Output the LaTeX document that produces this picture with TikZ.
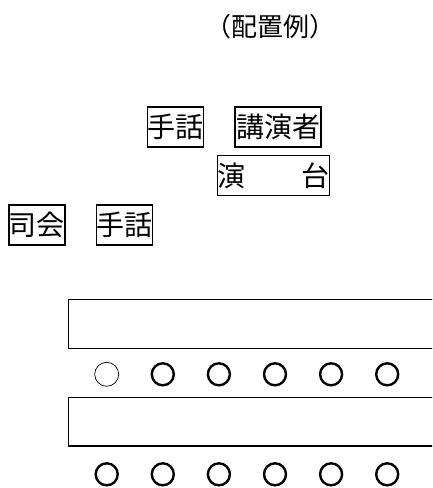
\documentclass[tikz,border=0pt]{standalone}
\usepackage{fontspec}
\setmainfont{Noto Sans CJK JP}
\usetikzlibrary{positioning}

\begin{document}
\begin{tikzpicture}[x=1pt,y=-1pt,
  lbl/.style={draw,line width=1.6pt,inner xsep=0pt,inner ysep=0pt,minimum height=40pt,font=\fontsize{28}{28}\selectfont},
  desk/.style={draw,line width=1.6pt},
  seat/.style={circle,draw,line width=2.4pt,minimum size=22pt,inner sep=0pt},
  seatthin/.style={circle,draw,line width=0.7pt,minimum size=24pt,inner sep=0pt}]
\useasboundingbox (0,0) rectangle (432,488);
\clip (0,0) rectangle (432,488);
\node (title) at (270,27) {\fontsize{26}{26}\selectfont （配置例）};
\node [lbl] (shuwaA) at (175.5,127) {手話};
\node [lbl,minimum width=86pt] (koen) at (278,127) {講演者};
\node [lbl,minimum width=103pt] (endai) at (273.5,175.5) {演　　台};
\node [lbl] (shikai) at (36.7,225) {司会};
\node [lbl] (shuwaB) at (124.5,225) {手話};
\draw [desk] (68.3,299.3) rectangle (445,348.3);
\draw [desk] (68.3,397.3) rectangle (445,446);
\node [seatthin] (s1) at (106.7,374.3) {};
\foreach \i in {2,...,6}
  \node [seat] (s\i) at ({106.7+56.1*(\i-1)},374.3) {};
\foreach \i in {1,...,6}
  \node [seat] (t\i) at ({106.7+56.1*(\i-1)},474.3) {};
\end{tikzpicture}
\end{document}
